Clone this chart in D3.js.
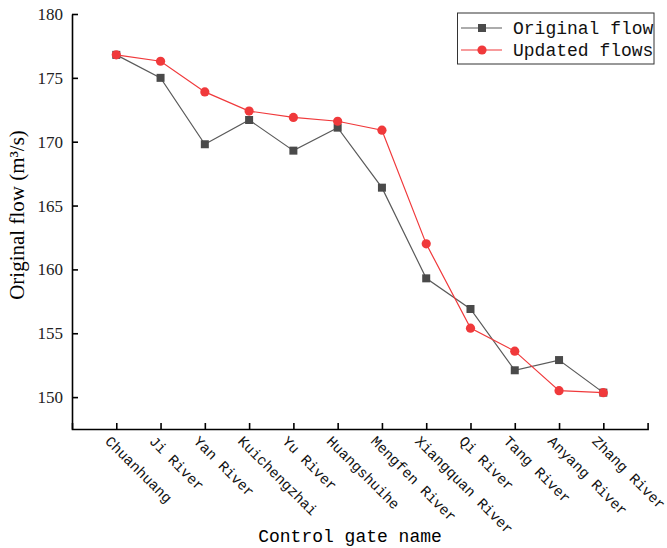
<!DOCTYPE html>
<html><head><meta charset="utf-8">
<script src="https://cdn.jsdelivr.net/npm/d3@7/dist/d3.min.js"></script>
<style>html,body{margin:0;padding:0;background:#fff;}</style>
</head><body>
<svg id="c" width="667" height="548"></svg>
<script>
const categories = ["Chuanhuang","Ji River","Yan River","Kuichengzhai","Yu River","Huangshuihe","Mengfen River","Xiangquan River","Qi River","Tang River","Anyang River","Zhang River"];
const originalFlow = [176.8, 175.0, 169.8, 171.7, 169.3, 171.1, 166.4, 159.3, 156.9, 152.1, 152.9, 150.35];
const updatedFlows = [176.8, 176.3, 173.9, 172.4, 171.9, 171.6, 170.9, 162.0, 155.4, 153.6, 150.5, 150.35];
const yTicks = [150, 155, 160, 165, 170, 175, 180];
const seriesNames = ["Original flow", "Updated flows"];

(function () {
const svg = d3.select("#c");
const mLeft = 72, mRight = 647.6, mTop = 14, mBottom = 429;
const x = d3.scalePoint().domain(categories).range([mLeft, mRight]).padding(1);
const y = d3.scaleLinear().domain([180 - (mBottom - mTop) / 12.77, 180]).range([mBottom, mTop]);

const serif = "'Liberation Serif','Times New Roman',serif";
const mono = "'Liberation Mono','DejaVu Sans Mono',monospace";

// axes
const xAxis = svg.append("g").attr("transform", `translate(0,${mBottom})`)
  .call(d3.axisBottom(x).tickSize(-6).tickSizeOuter(-6).tickFormat(""));
xAxis.selectAll("path,line").attr("stroke", "#000").attr("stroke-width", 1.6);

const yAxis = svg.append("g").attr("transform", `translate(${mLeft},0)`)
  .call(d3.axisLeft(y).tickValues(yTicks).tickSize(-6).tickSizeOuter(0).tickPadding(9).tickFormat(d3.format("d")));
yAxis.select(".domain").attr("stroke", "#000").attr("stroke-width", 1.6);
yAxis.selectAll("line").attr("stroke", "#000").attr("stroke-width", 1.6);
yAxis.selectAll("text").attr("font-family", serif).attr("font-size", 17).attr("fill", "#222");

// x labels rotated
svg.append("g").selectAll("text").data(categories).join("text")
  .attr("transform", d => `translate(${x(d) - 12},${mBottom + 13}) rotate(45)`)
  .attr("font-family", mono).attr("font-size", 14.6).attr("fill", "#111")
  .text(d => d);

// titles
svg.append("text").attr("x", 350).attr("y", 542).attr("text-anchor", "middle")
  .attr("font-family", mono).attr("font-size", 18).attr("fill", "#000").text("Control gate name");
svg.append("text").attr("transform", `translate(24,215) rotate(-90)`).attr("text-anchor", "middle")
  .attr("font-family", serif).attr("font-size", 21).attr("fill", "#000")
  .text("Original flow (m³/s)");

const line = d3.line().x((d, i) => x(categories[i])).y(d => y(d));
const cBlack = "#4a4a4a", cBlackLine = "#5a5a5a", cRed = "#f0393b";

svg.append("path").datum(originalFlow).attr("d", line).attr("fill", "none")
  .attr("stroke", cBlackLine).attr("stroke-width", 1.2);
svg.append("g").selectAll("rect").data(originalFlow).join("rect")
  .attr("x", (d, i) => x(categories[i]) - 4).attr("y", d => y(d) - 4)
  .attr("width", 8).attr("height", 8).attr("fill", cBlack);

svg.append("path").datum(updatedFlows).attr("d", line).attr("fill", "none")
  .attr("stroke", cRed).attr("stroke-width", 1.2);
svg.append("g").selectAll("circle").data(updatedFlows).join("circle")
  .attr("cx", (d, i) => x(categories[i])).attr("cy", d => y(d)).attr("r", 4.6).attr("fill", cRed);

// legend
const lg = svg.append("g");
lg.append("rect").attr("x", 457.5).attr("y", 13).attr("width", 196.5).attr("height", 51)
  .attr("fill", "#fff").attr("stroke", "#333").attr("stroke-width", 1);
const ly = [28, 50];
seriesNames.forEach((n, i) => {
  const col = i === 0 ? cBlackLine : cRed;
  lg.append("line").attr("x1", 461).attr("x2", 502).attr("y1", ly[i]).attr("y2", ly[i])
    .attr("stroke", col).attr("stroke-width", 1.2);
  if (i === 0) lg.append("rect").attr("x", 478).attr("y", ly[i] - 4).attr("width", 8).attr("height", 8).attr("fill", cBlack);
  else lg.append("circle").attr("cx", 482).attr("cy", ly[i]).attr("r", 4.6).attr("fill", cRed);
  lg.append("text").attr("x", 513).attr("y", ly[i] + 6).attr("font-family", mono).attr("font-size", 18)
    .attr("fill", "#111").text(n);
});
})();
</script>
</body></html>
